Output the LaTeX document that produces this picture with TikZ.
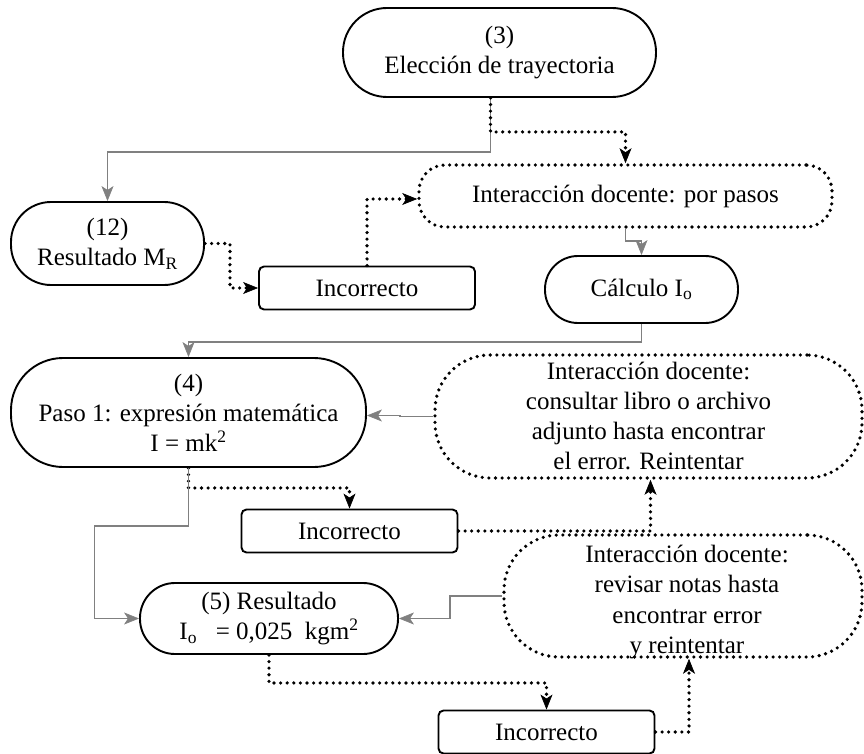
\documentclass[tikz,border=0pt]{standalone}
\usepackage{fontspec}
\setmainfont{Liberation Serif}
\usetikzlibrary{arrows.meta}
\definecolor{linkgray}{RGB}{128,128,128}
\begin{document}
\begin{tikzpicture}[x=1pt,y=-1pt,
  every node/.style={font=\fontsize{25}{30}\selectfont, align=center, inner sep=0pt},
  pill/.style={draw=black, line width=1.9pt, fill=white, rounded corners=#1},
  pill/.default=40pt,
  dotpill/.style={draw=black, line width=3.6pt, dash pattern=on 0pt off 6.6pt, line cap=round, rounded corners=#1},
  dotpill/.default=50pt,
  errbox/.style={draw=black, line width=1.9pt, fill=white, rounded corners=5pt, minimum width=216pt, minimum height=43pt},
  solidlink/.style={draw=linkgray, line width=1.9pt, -{Stealth[length=15pt, width=12pt, line width=0.6pt, inset=4pt]}},
  dotlink/.style={draw=black, line width=3.6pt, dash pattern=on 0pt off 6.6pt, line cap=round, -{Stealth[length=15pt, width=12pt, line width=0.6pt, inset=4pt]}}
]
\useasboundingbox (0,0) rectangle (864,754);

% process steps
\node[pill=44pt, minimum width=313pt, minimum height=89pt] (n3) at (499.5,52.5) {(3)\\Elección de trayectoria};
\node[pill=40pt, minimum width=193pt, minimum height=83pt] (n12) at (107.5,243.5) {(12)\\Resultado M\textsubscript{R}};
\node[dotpill=26pt, minimum width=413pt, minimum height=62pt] (pasos) at (625.5,196) {Interacción docente: por pasos};
\node[errbox] (inc1) at (367,288) {Incorrecto};
\node[pill=33pt, minimum width=193pt, minimum height=67pt] (calc) at (641.5,289.5) {Cálculo I\textsubscript{o}};
\node[pill=52pt, minimum width=355pt, minimum height=109pt] (n4) at (188.5,412.5) {(4)\\Paso 1: expresión matemática\\I = mk\textsuperscript{2}};
\node[dotpill=55pt, minimum width=427pt, minimum height=123pt] (consultar) at (648.5,416.5) {};
\node at (648.5,416) {Interacción docente:\\consultar libro o archivo\\adjunto hasta encontrar\\el error. Reintentar};
\node[errbox] (inc2) at (349.5,531) {Incorrecto};
\node[dotpill=55pt, minimum width=358pt, minimum height=122pt] (revisar) at (683,596) {};
\node at (687,602) {Interacción docente:\\revisar notas hasta\\encontrar error\\y reintentar};
\node[pill=35pt, minimum width=258pt, minimum height=71pt] (n5) at (269,618.5) {(5) Resultado\\I\textsubscript{o}\ \ \ = 0,025\ \ kgm\textsuperscript{2}};
\node[errbox] (inc3) at (546.5,732) {Incorrecto};

% connectors
\draw[solidlink] ([xshift=-9pt]n3.south) -- ++(0,54) -| (n12.north);
\draw[dotlink] ([xshift=-9pt]n3.south) -- ++(0,34) -| (pasos.north);
\draw[dotlink] (n12.east) -- ++(25,0) |- (inc1.west);
\draw[dotlink] (inc1.north) |- ([yshift=-3pt]pasos.west);
\draw[solidlink] (pasos.south) -- ++(0,12) -| (calc.north);
\draw[solidlink] (calc.south) -- ++(0,18) -| (n4.north);
\draw[solidlink] (consultar.west) -- ++(-33,0) |- ([yshift=-3pt]n4.east);
\draw[dotlink] (n4.south) -- ++(0,20) -| (inc2.north);
\draw[solidlink] (n4.south) -- ++(0,58) -- ++(-94,0) |- (n5.west);
\draw[dotlink] (inc2.east) -| ([xshift=2pt]consultar.south);
\draw[solidlink] (revisar.west) -- ++(-52,0) |- (n5.east);
\draw[dotlink] (n5.south) -- ++(0,28) -| (inc3.north);
\draw[dotlink] (inc3.east) -| ([xshift=6pt]revisar.south);
\end{tikzpicture}
\end{document}
